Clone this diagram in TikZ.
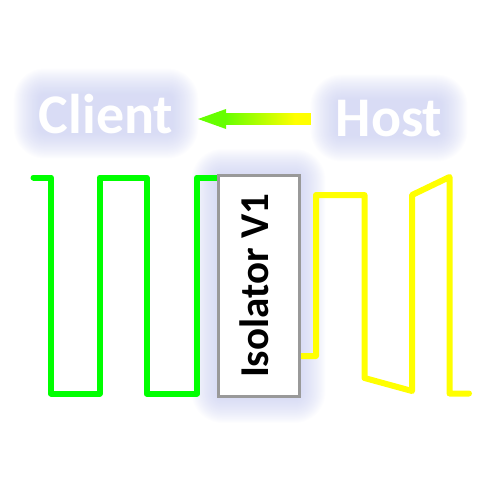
\documentclass[tikz,border=0pt]{standalone}
\usepackage{fontspec}
\setmainfont{Carlito}
\usetikzlibrary{calc,backgrounds}
\definecolor{wavegreen}{RGB}{0,255,0}
\definecolor{waveyellow}{RGB}{255,255,0}
\definecolor{headgreen}{RGB}{102,255,0}
\definecolor{boxgray}{RGB}{153,153,153}
\definecolor{glowc}{RGB}{192,198,238}
\tikzset{
  wave/.style={line width=6pt, line join=round, line cap=round},
  glowlayer/.style={fill=glowc, fill opacity=0.035},
  endpoint/.style={font=\bfseries\fontsize{56}{60}\selectfont, text=white, inner sep=0pt, anchor=base},
  isobox/.style={draw=boxgray, line width=3pt, fill=white, minimum width=81pt, minimum height=221pt, inner sep=0pt},
}
\begin{document}
\begin{tikzpicture}[x=1pt, y=-1pt]
  \useasboundingbox (0,0) rectangle (500,500);

  % Client / Host labels
  \node[endpoint] (client) at (106,133) {Client};
  \node[endpoint] (host) at (389,136) {Host};

  % Isolator box
  \node[isobox] (iso) at (258.5,286) {};
  \node[rotate=90, anchor=base, font=\bfseries\fontsize{41}{44}\selectfont] (isolabel) at (268,286) {Isolator V1};

  % Arrow host -> client
  \coordinate (tip) at (198,119);
  \coordinate (tail) at (311,119);
  \fill[headgreen] (tip) -- ($(tip)+(28,-10)$) -- ($(tip)+(28,10)$) -- cycle;
  \shade[left color=headgreen, right color=waveyellow] ($(tip)+(27,-5.5)$) rectangle ($(tail)+(-16,5.5)$);
  \fill[waveyellow] ($(tail)+(-16.5,-5.5)$) rectangle ($(tail)+(0,5.5)$);

  \begin{scope}[on background layer]
    % Glow
    \foreach \n in {client,host,iso} {
      \foreach \r in {0,1,...,25} {
        \fill[glowlayer, rounded corners=\r pt+6pt] ([shift={(-\r pt,\r pt)}]\n.north west) rectangle ([shift={(\r pt,-\r pt)}]\n.south east);
      }
    }
    % Waves
    \draw[wave, wavegreen] (33.5,177.5) -- (51,177.5) -- (51,393.5) -- (99.5,393.5) -- (99.5,177.5) -- (146.7,177.5) -- (146.7,393.5) -- (197,393.5) -- (197,177.5) -- (iso.west |- 0,177.5);
    \draw[wave, waveyellow] (iso.east |- 0,356) -- (316,356) -- (316,195) -- (364.5,195) -- (364.5,378) -- (412,391) -- (412,195) -- (449.5,177) -- (449.5,393.5) -- (469,393.5);
  \end{scope}
\end{tikzpicture}
\end{document}
